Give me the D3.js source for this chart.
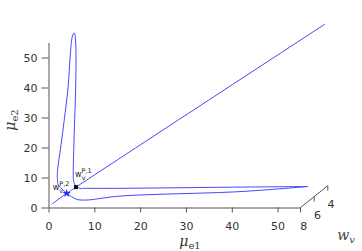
<!DOCTYPE html>
<html>
<head>
<meta charset="utf-8">
<script src="https://cdn.jsdelivr.net/npm/d3@7"></script>
<style>
body { margin: 0; background: #fff; }
text { font-family: "DejaVu Sans", sans-serif; }
</style>
</head>
<body>
<script>
const width = 362;
const height = 251;

// tick values
const xTicks = [0, 10, 20, 30, 40, 50];
const yTicks = [0, 10, 20, 30, 40, 50];
const wTicks = [4, 6, 8];

// diagonal branch (projected mu_e1, mu_e2)
const diagE1 = [0.7, 3.97, 6.0, 60.3];
const diagE2 = [1.1, 4.7, 6.8, 61.1];

// closed loop (projected mu_e1, mu_e2)
const loopE1 = [56.6, 41.8, 15.6, 8.0, 6.9, 5.8, 5.45, 5.4, 5.57, 5.94, 6.0, 5.9, 5.63,
  5.24, 4.7, 4.32, 2.88, 1.92, 1.96, 2.14, 3.23, 3.97, 5.06, 6.15, 8.34, 15.6, 41.8, 56.6];
const loopE2 = [7.0, 6.8, 6.4, 6.4, 6.4, 7.5, 9.2, 11.5, 22.5, 40.8, 49.8, 55.8, 58.2,
  57.2, 49.8, 40.8, 22.5, 11.4, 9.2, 7.5, 5.8, 4.7, 3.6, 2.7, 2.5, 3.8, 5.3, 7.0];

// marked points
const markNames = ["P,1", "P,2"];
const markE1 = [6.0, 3.97];
const markE2 = [6.8, 4.7];

const svg = d3.select("body").append("svg")
  .attr("width", width).attr("height", height);

const x = d3.scaleLinear().domain([0, 55]).range([48.5, 300.5]);
const y = d3.scaleLinear().domain([0, 55]).range([207.5, 42.5]);
// depth axis: fraction along the receding direction
const w = d3.scaleLinear().domain([8, 4]).range([0, 1]);
const depthVec = [27.3, -21.8];

const axisColor = "#555";
const textColor = "#333";

// x axis
const gx = svg.append("g").attr("transform", "translate(0,207.5)")
  .call(d3.axisBottom(x).tickValues(xTicks).tickSize(5).tickSizeOuter(0).tickPadding(10));
// y axis
const gy = svg.append("g").attr("transform", "translate(48.5,0)")
  .call(d3.axisLeft(y).tickValues(yTicks).tickSize(7).tickSizeOuter(0).tickPadding(4));
[gx, gy].forEach(g => {
  g.selectAll("path, line").attr("stroke", axisColor);
  g.selectAll("text").attr("fill", textColor).style("font-size", "11px")
    .style("font-family", "DejaVu Sans");
});

// depth axis
const x0 = x(55), y0 = y(0);
const wp = v => [x0 + w(v) * depthVec[0], y0 + w(v) * depthVec[1]];
svg.append("line")
  .attr("x1", wp(8)[0]).attr("y1", wp(8)[1])
  .attr("x2", wp(4)[0]).attr("y2", wp(4)[1])
  .attr("stroke", axisColor);
const gw = svg.append("g");
gw.selectAll("line").data(wTicks).join("line")
  .attr("x1", d => wp(d)[0]).attr("x2", d => wp(d)[0])
  .attr("y1", d => wp(d)[1]).attr("y2", d => wp(d)[1] + 5)
  .attr("stroke", axisColor);
gw.selectAll("text").data(wTicks).join("text")
  .attr("x", d => wp(d)[0] + 3.3).attr("y", d => wp(d)[1] + 19)
  .attr("text-anchor", "middle").attr("dominant-baseline", "central")
  .attr("fill", textColor).style("font-size", "11px")
  .text(d => d);

// curves
const line = d3.line().x(d => x(d[0])).y(d => y(d[1])).curve(d3.curveCatmullRom);
const curveColor = "#4646ff";
svg.append("path")
  .attr("d", line(diagE1.map((d, i) => [d, diagE2[i]])))
  .attr("fill", "none").attr("stroke", curveColor).attr("stroke-width", 1);
svg.append("path")
  .attr("d", line(loopE1.map((d, i) => [d, loopE2[i]])))
  .attr("fill", "none").attr("stroke", curveColor).attr("stroke-width", 1);

// markers
svg.append("rect")
  .attr("x", x(markE1[0]) - 2).attr("y", y(markE2[0]) - 2)
  .attr("width", 4).attr("height", 4).attr("fill", "#111");
svg.append("path")
  .attr("transform", `translate(${x(markE1[1])},${y(markE2[1])})`)
  .attr("d", d3.symbol(d3.symbolStar, 22)())
  .attr("fill", "#2a2aff");

// marker labels
const labelOff = [[-1, -10], [-14, -3]];
markNames.forEach((n, i) => {
  const t = svg.append("text")
    .attr("x", x(markE1[i]) + labelOff[i][0])
    .attr("y", y(markE2[i]) + labelOff[i][1])
    .attr("fill", "#222").style("font-size", "8px");
  t.append("tspan").text("w");
  t.append("tspan").attr("dy", -4).style("font-size", "6.5px").text(n);
  t.append("tspan").attr("dx", -10).attr("dy", 7).style("font-size", "6.5px").text("v");
});

// axis labels
const xl = svg.append("text").attr("x", 190).attr("y", 246)
  .attr("text-anchor", "middle").attr("fill", textColor)
  .style("font-family", "DejaVu Serif").style("font-size", "14px");
xl.append("tspan").style("font-style", "italic").text("μ");
xl.append("tspan").attr("dy", 3).style("font-size", "10px").text("e1");

const yl = svg.append("text")
  .attr("transform", "translate(15,120) rotate(-90)")
  .attr("text-anchor", "middle").attr("fill", textColor)
  .style("font-family", "DejaVu Serif").style("font-size", "14px");
yl.append("tspan").style("font-style", "italic").text("μ");
yl.append("tspan").attr("dy", 3).style("font-size", "10px").text("e2");

const wl = svg.append("text").attr("x", 346).attr("y", 240)
  .attr("text-anchor", "middle").attr("fill", "#444")
  .style("font-family", "DejaVu Serif").style("font-size", "14px");
wl.append("tspan").style("font-style", "italic").text("w");
wl.append("tspan").attr("dy", 3).style("font-size", "10px").style("font-style", "italic").text("v");
</script>
</body>
</html>
